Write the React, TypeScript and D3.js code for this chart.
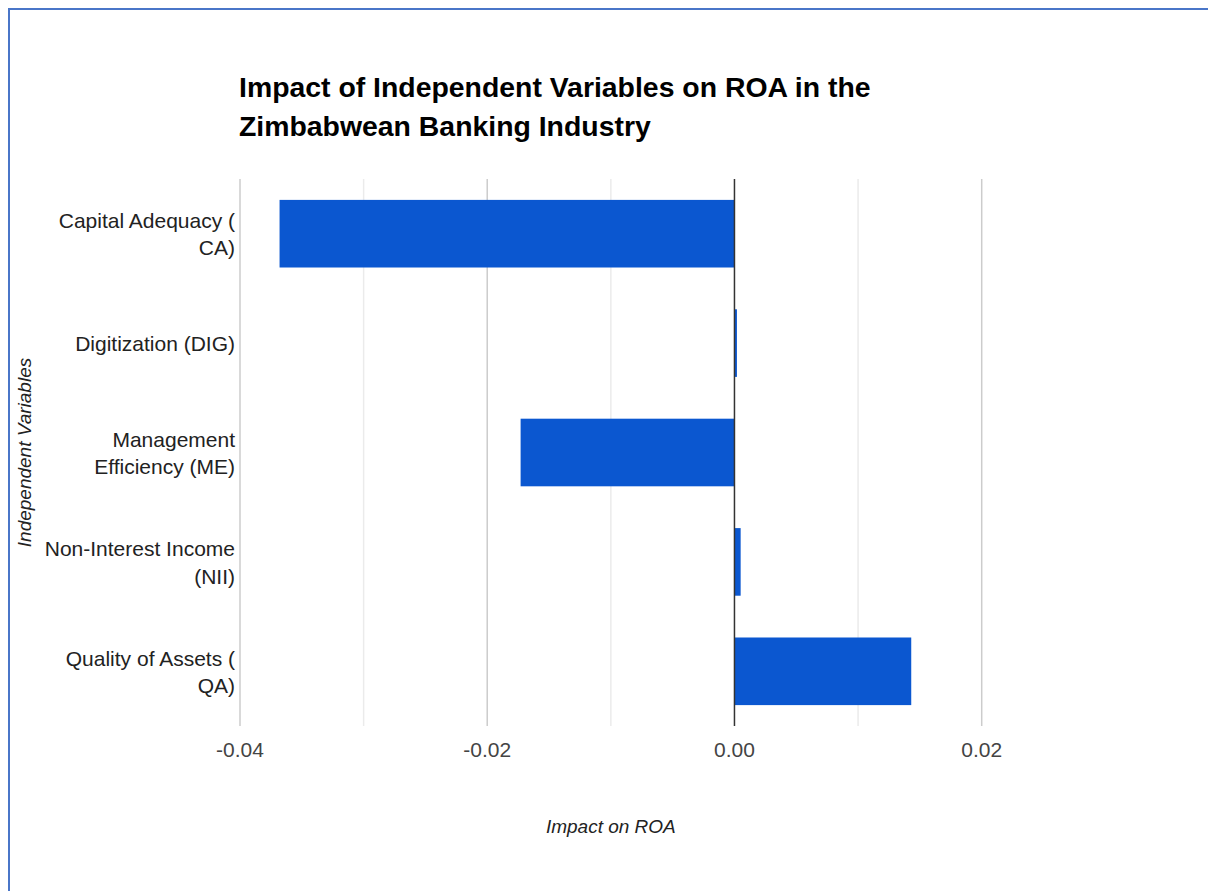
import React from "react";
import * as d3 from "d3";

const categories: string[] = [
  "Capital Adequacy ( CA)",
  "Digitization (DIG)",
  "Management Efficiency (ME)",
  "Non-Interest Income (NII)",
  "Quality of Assets ( QA)",
];
const values: number[] = [-0.0368, 0.0002, -0.0173, 0.0005, 0.0143];
const majorTicks: number[] = [-0.04, -0.02, 0, 0.02];
const minorTicks: number[] = [-0.03, -0.01, 0.01];
const titleText = "Impact of Independent Variables on ROA in the Zimbabwean Banking Industry";
const xTitle = "Impact on ROA";
const yTitle = "Independent Variables";

const FONT = "'Liberation Sans', Arial, sans-serif";

let measureCtx: CanvasRenderingContext2D | null = null;
function measure(text: string, font: string): number {
  if (!measureCtx) {
    const c = document.createElement("canvas");
    measureCtx = c.getContext("2d");
  }
  if (!measureCtx) return text.length * 10;
  measureCtx.font = font;
  return measureCtx.measureText(text).width;
}

function wrap(text: string, font: string, maxW: number): string[] {
  const words = text.split(" ");
  const lines: string[] = [];
  let cur = "";
  for (const w of words) {
    const test = cur ? cur + " " + w : w;
    if (cur && measure(test, font) > maxW) {
      lines.push(cur);
      cur = w;
    } else {
      cur = test;
    }
  }
  if (cur) lines.push(cur);
  return lines;
}

const fmt = d3.formatLocale({
  decimal: ".",
  thousands: ",",
  grouping: [3],
  currency: ["", ""],
  minus: "-",
}).format(".2f");

export default function App() {
  const W = 1208;
  const H = 891;
  const left = 240;
  const right = 981.7;
  const top = 179;
  const bottom = 726;

  const x = d3.scaleLinear().domain([-0.04, 0.02]).range([left, right]);
  const y = d3
    .scaleBand<string>()
    .domain(categories)
    .range([top, bottom])
    .paddingInner(0.382)
    .paddingOuter(0.191);

  const titleSize = 28.4;
  const titleFont = `bold ${titleSize}px 'Liberation Sans'`;
  const titleLines = wrap(titleText, titleFont, right - left);
  const labelFont = `21px 'Liberation Sans'`;

  return (
    <svg
      width={W}
      height={H}
      style={{ position: "absolute", left: 0, top: 0, display: "block", background: "#fff" }}
      fontFamily={FONT}
    >
      <rect x={0} y={0} width={W} height={H} fill="#fff" />
      {/* frame */}
      <path d={`M9,${H + 5} L9,9 L${W + 5},9`} fill="none" stroke="#4a76c8" strokeWidth={2} />

      {/* title */}
      <text x={left - 1} y={97} fontSize={titleSize} fontWeight="bold" fill="#000">
        {titleLines.map((l, i) => (
          <tspan key={i} x={left - 1} dy={i === 0 ? 0 : 38.5}>
            {l}
          </tspan>
        ))}
      </text>

      {/* gridlines */}
      {minorTicks.map((t) => (
        <line key={"m" + t} x1={x(t)} x2={x(t)} y1={top} y2={bottom} stroke="#ebebeb" strokeWidth={1.5} />
      ))}
      {majorTicks
        .filter((t) => t !== 0)
        .map((t) => (
          <line key={"M" + t} x1={x(t)} x2={x(t)} y1={top} y2={bottom} stroke="#cccccc" strokeWidth={1.5} />
        ))}

      {/* bars */}
      {categories.map((c, i) => {
        const v = values[i];
        const x0 = x(Math.min(0, v));
        const x1 = x(Math.max(0, v));
        return (
          <rect
            key={c}
            x={x0}
            y={y(c)}
            width={Math.max(1, x1 - x0)}
            height={y.bandwidth()}
            fill="#0b57d0"
          />
        );
      })}

      {/* zero line */}
      <line x1={x(0)} x2={x(0)} y1={top} y2={bottom} stroke="#333" strokeWidth={1.5} />

      {/* x tick labels */}
      {majorTicks.map((t) => (
        <text key={"t" + t} x={x(t)} y={757} textAnchor="middle" fontSize={21} fill="#444">
          {fmt(t)}
        </text>
      ))}

      {/* category labels */}
      {categories.map((c) => {
        const lines = wrap(c, labelFont, 210);
        const center = (y(c) as number) + y.bandwidth() / 2;
        const lh = 27.5;
        const first = center - ((lines.length - 1) * lh) / 2 + 8;
        return (
          <text key={"l" + c} x={235} textAnchor="end" fontSize={21} fill="#222">
            {lines.map((l, i) => (
              <tspan key={i} x={235} y={first + i * lh}>
                {l}
              </tspan>
            ))}
          </text>
        );
      })}

      {/* axis titles */}
      <text
        x={(left + right) / 2}
        y={833}
        textAnchor="middle"
        fontSize={19}
        fontStyle="italic"
        fill="#222"
      >
        {xTitle}
      </text>
      <text
        transform={`translate(31,${(top + bottom) / 2}) rotate(-90)`}
        textAnchor="middle"
        fontSize={19}
        fontStyle="italic"
        fill="#222"
      >
        {yTitle}
      </text>
    </svg>
  );
}
